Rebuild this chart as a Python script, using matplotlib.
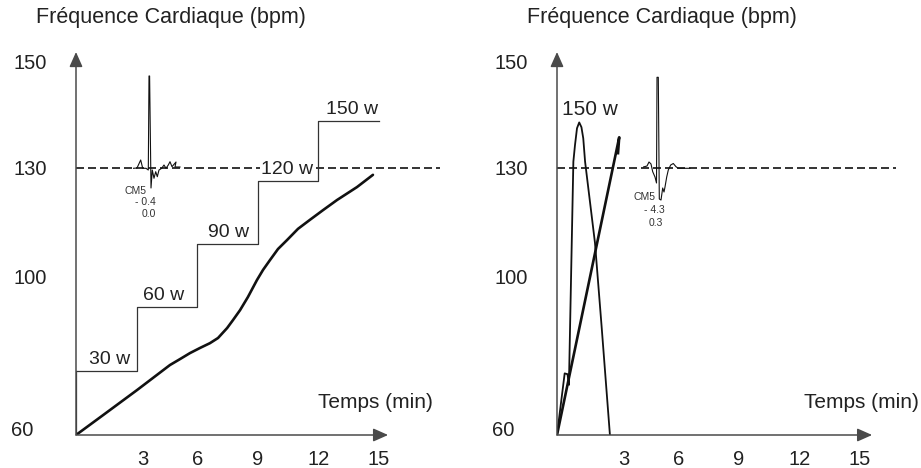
import matplotlib

matplotlib.use("Agg")

import matplotlib.pyplot as plt
import matplotlib.transforms as mtransforms
import numpy as np

plt.rcParams["font.family"] = ["Liberation Sans", "DejaVu Sans"]

INK = "#111111"
AXIS = "#4a4a4a"
TEXT = "#222222"
FIG_W, FIG_H = 921, 468

# the original y axis is drawn with uneven spacing between its ticks
bpm_marks = [60, 100, 130, 150, 170]
height_marks = [0, 159, 267, 373, 479]

time_ticks = [3, 6, 9, 12, 15]
bpm_ticks = [60, 100, 130, 150]
threshold_bpm = 130

stage_edges = [0, 3, 6, 9, 12, 15]
stage_bpm = [76, 92.3, 108.9, 126.5, 138.9]
stage_labels = ["30 w", "60 w", "90 w", "120 w", "150 w"]
stage_label_x = [1.68, 4.33, 7.55, 10.45, 13.66]

hr_time = [0, 1.34, 3.02, 4.65, 5.15, 5.64, 6.14, 6.63, 7.03, 7.48, 7.77, 8.12, 8.51, 8.96, 9.26,
           9.6, 10.0, 10.45, 10.99, 11.58, 12.23, 12.92, 13.91, 14.7]
hr_bpm = [60, 65.0, 71.3, 77.6, 79.1, 80.6, 81.9, 83.1, 84.4, 86.9, 88.9, 91.4, 94.7, 99.0, 101.7,
          104.4, 107.5, 110.0, 113.1, 115.6, 118.3, 121.1, 124.7, 128.1]

peak_time = [0, 0.38, 0.52, 0.59, 0.81, 0.89, 0.99, 1.10, 1.21, 1.30, 1.39, 1.88, 2.21, 2.62]
peak_bpm = [60, 75.5, 75.3, 72.6, 131.2, 134.3, 137.5, 138.6, 137.7, 135.6, 131.2, 109.2, 87.2, 60]
ramp_time = [0, 3.08, 3.02]
ramp_bpm = [60, 135.8, 132.8]

# ECG traces (arbitrary units, baseline = 0)
ecg_left_t = [0, 3.7, 7.4, 9.4, 12.7, 15.0, 15.7, 16.3, 17.7, 19.0, 20.7, 22.4, 24.0, 25.7, 28.4,
              30.7, 32.7, 35.0, 36.7, 38.7, 42.7, 41.7, 46.7]
ecg_left_v = [0, 0.3, 8.3, 0, 0, -1.7, 92.3, 92.3, -19.7, -1.7, -10, -3.4, -8.4, -1.7, 0,
              3.3, 0, 3.3, 6.6, 1.6, 6.3, 1.3, 1.3]
ecg_right_t = [0, 3.7, 5.7, 7.7, 9.4, 11.7, 13.2, 13.7, 15.0, 16.0, 17.7, 19.4, 20.7, 21.7, 23.4,
               25.0, 27.4, 30.0, 32.7, 35.0, 46.7]
ecg_right_v = [1.3, 2.3, 6.3, 4.3, -3.4, -8.7, -14.7, 91, 91, -30.7, -31.7, -19.7, -23.7, -18.7, -8.7,
               -1.7, 3.3, 4.8, 1.6, 0, 0]
ecg_left_text = ["CM5", "- 0.4", "0.0"]
ecg_right_text = ["CM5", "- 4.3", "0.3"]


def fwd(v):
    return np.interp(v, bpm_marks, height_marks)


def inv(h):
    return np.interp(h, height_marks, bpm_marks)


def px_box(x0, y_top, w, h):
    return [x0 / FIG_W, 1 - (y_top + h) / FIG_H, w / FIG_W, h / FIG_H]


def make_panel(fig, x0, x_max, arrow_x):
    px_per_min = 20.2
    ax = fig.add_axes(px_box(x0, 52, x_max * px_per_min, 383))
    ax.set_yscale("function", functions=(fwd, inv))
    ax.set_xlim(0, x_max)
    ax.set_ylim(60, inv(383))
    ax.patch.set_alpha(0)
    for side in ax.spines.values():
        side.set_visible(False)

    head = "-|>,head_length=0.9,head_width=0.4"
    ax.annotate("", xy=(0, 1), xycoords="axes fraction", xytext=(0, 0),
                arrowprops=dict(arrowstyle=head, color=AXIS, lw=1.1, shrinkA=0, shrinkB=0))
    ax.annotate("", xy=(arrow_x, 60), xytext=(0, 60),
                arrowprops=dict(arrowstyle=head, color=AXIS, lw=1.1, shrinkA=0, shrinkB=0))

    ax.set_xticks(time_ticks)
    ax.set_xticklabels([str(t) for t in time_ticks])
    ax.set_yticks(bpm_ticks)
    ax.set_yticklabels([str(b) for b in bpm_ticks])
    ax.tick_params(axis="both", length=0, labelsize=14.5, colors=TEXT)
    ax.tick_params(axis="y", pad=21)
    ax.tick_params(axis="x", pad=11)
    ax.minorticks_off()

    shift60 = mtransforms.ScaledTranslation(-13 / 100, 7 / 100, fig.dpi_scale_trans)
    lab = ax.get_yticklabels()[0]
    lab.set_transform(lab.get_transform() + shift60)
    shift3 = mtransforms.ScaledTranslation(6 / 100, 0, fig.dpi_scale_trans)
    lab = ax.get_xticklabels()[0]
    lab.set_transform(lab.get_transform() + shift3)

    ax.plot([0, x_max], [threshold_bpm, threshold_bpm], color=INK, lw=1.2,
            dashes=(4.8, 2.4), clip_on=False, zorder=1)
    return ax


def draw_ecg(fig, x0, trace_t, trace_v, texts, text_pos):
    ex = fig.add_axes(px_box(x0, 168.3 - 95, 50, 130))
    ex.set_xlim(0, 50)
    ex.set_ylim(-35, 95)
    ex.axis("off")
    ex.plot(trace_t, trace_v, color=INK, lw=0.8)
    for label, (tx, ty) in zip(texts, text_pos):
        ex.text(tx, ty, label, fontsize=7.5, color="#333333", ha="center", va="center")


fig = plt.figure(figsize=(FIG_W / 100, FIG_H / 100), dpi=100, facecolor="white")

# left panel: incremental test
ax1 = make_panel(fig, 76, 18, 15.45)
ax1.step(stage_edges, stage_bpm + [stage_bpm[-1]], where="post", color="#333333", lw=0.9)
ax1.plot([0, 0], [60, stage_bpm[0]], color="#333333", lw=0.9)
for lx, lb, lv in zip(stage_label_x, stage_labels, stage_bpm):
    ax1.annotate(lb, xy=(lx, lv), xytext=(0, 5), textcoords="offset points",
                 ha="center", va="baseline", fontsize=14, color=TEXT, zorder=3,
                 bbox=dict(boxstyle="square,pad=0.05", facecolor="white", edgecolor="none"))
ax1.plot(hr_time, hr_bpm, color=INK, lw=1.9, solid_capstyle="round", solid_joinstyle="round")

# right panel: direct 150 w
ax2 = make_panel(fig, 557, 16.8, 15.6)
ax2.plot(peak_time, peak_bpm, color=INK, lw=1.3, solid_joinstyle="round")
ax2.plot(ramp_time, ramp_bpm, color=INK, lw=1.9)
ax2.text(1.63, 140, "150 w", ha="center", va="baseline", fontsize=15, color=TEXT)

draw_ecg(fig, 133.3, ecg_left_t, ecg_left_v, ecg_left_text,
         [(2.2, -22.7), (12.2, -33.7), (15.5, -45.7)])
draw_ecg(fig, 643.3, ecg_right_t, ecg_right_v, ecg_right_text,
         [(0.7, -29.2), (10.7, -41.7), (12.7, -54.7)])

fig.text(36 / FIG_W, 1 - 18 / FIG_H, "Fréquence Cardiaque (bpm)", fontsize=15.5,
         color=TEXT, ha="left", va="center")
fig.text(527 / FIG_W, 1 - 18 / FIG_H, "Fréquence Cardiaque (bpm)", fontsize=15.5,
         color=TEXT, ha="left", va="center")
fig.text(375 / FIG_W, 1 - 403 / FIG_H, "Temps (min)", fontsize=15, color=TEXT,
         ha="center", va="center")
fig.text(919 / FIG_W, 1 - 403 / FIG_H, "Temps (min)", fontsize=15, color=TEXT,
         ha="right", va="center")

fig.savefig("out.png", dpi=100, facecolor="white")
